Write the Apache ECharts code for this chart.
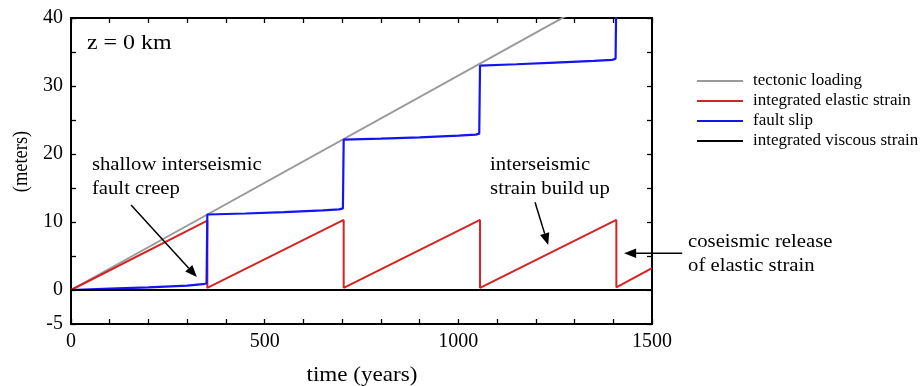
<!DOCTYPE html>
<html><head><meta charset="utf-8">
<script src="https://cdn.jsdelivr.net/npm/echarts@6/dist/echarts.min.js"></script>
<style>html,body{margin:0;padding:0;background:#fff}#c{width:920px;height:386px}</style>
</head><body><div id="c"></div>
<script>
// ---- data (years, meters) ----
const tectonicLoading = [[0, 0], [1500, 47.3]];
const elasticStrain = [[0, 0], [352, 10.2], [352, 0.3], [704, 10.3], [704, 0.3], [1056, 10.3], [1056, 0.3], [1408, 10.3], [1408, 0.4], [1500, 3.2]];
const faultSlip = [[0, 0], [100, 0.2], [200, 0.4], [300, 0.65], [340, 0.85], [350, 0.95], [352, 11.1],
  [450, 11.25], [550, 11.45], [650, 11.7], [692, 11.85], [702, 12.0], [704, 22.1],
  [800, 22.25], [900, 22.45], [1000, 22.7], [1045, 22.85], [1054, 23.0], [1056, 33.0],
  [1150, 33.2], [1250, 33.45], [1350, 33.7], [1397, 33.85], [1406, 34.0], [1408, 44.4]];
const viscousStrain = [[0, 0], [1500, 0]];
const seriesNames = ['tectonic loading', 'integrated elastic strain', 'fault slip', 'integrated viscous strain'];
const xTickLabels = [0, 500, 1000, 1500];
const yTickLabels = [-5, 0, 10, 20, 30, 40];

const FONT = 'Liberation Serif';
const chart = echarts.init(document.getElementById('c'));

function axisCommon(show) {
  return {
    axisLine: { show: true, onZero: false, lineStyle: { color: '#000', width: 2 } },
    axisTick: { show: true, inside: true, length: 5, lineStyle: { color: '#000', width: 1.3 } },
    splitLine: { show: false },
    axisLabel: { show: show, color: '#000', fontFamily: FONT, fontSize: 20 }
  };
}

const xb = axisCommon(true);
xb.axisLabel.margin = 8;
xb.axisLabel.interval = 0;
xb.axisLabel.formatter = v => xTickLabels.indexOf(v) >= 0 ? String(v) : '';
const yl = axisCommon(true);
yl.axisLabel.margin = 8;
yl.axisLabel.interval = 0;
yl.axisLabel.formatter = v => yTickLabels.indexOf(v) >= 0 ? String(v) : '';

const option = {
  animation: false,
  backgroundColor: '#fff',
  grid: { left: 71, right: 268, top: 18, bottom: 62, containLabel: false },
  xAxis: [
    Object.assign({ type: 'value', position: 'bottom', min: 0, max: 1500, interval: 100 }, xb),
    Object.assign({ type: 'value', position: 'top', min: 0, max: 1500, interval: 100 }, axisCommon(false))
  ],
  yAxis: [
    Object.assign({ type: 'value', position: 'left', min: -5, max: 40, interval: 5 }, yl),
    Object.assign({ type: 'value', position: 'right', min: -5, max: 40, interval: 5 }, axisCommon(false))
  ],
  legend: {
    orient: 'vertical', left: 697, top: 71, padding: 0, itemWidth: 46, itemHeight: 2, itemGap: 0,
    icon: 'rect',
    textStyle: { color: '#000', fontFamily: FONT, fontSize: 17, lineHeight: 20, padding: [0, 0, 0, 5] },
    data: seriesNames
  },
  series: [
    { name: seriesNames[0], type: 'line', data: tectonicLoading, symbol: 'none', lineStyle: { color: '#9a9a9a', width: 2 }, itemStyle: { color: '#9a9a9a' }, z: 2 },
    { name: seriesNames[1], type: 'line', data: elasticStrain, symbol: 'none', lineStyle: { color: '#d42424', width: 2 }, itemStyle: { color: '#d42424' }, z: 3 },
    { name: seriesNames[2], type: 'line', data: faultSlip, symbol: 'none', lineStyle: { color: '#1414f0', width: 2.2 }, itemStyle: { color: '#1414f0' }, z: 4 },
    { name: seriesNames[3], type: 'line', data: viscousStrain, symbol: 'none', lineStyle: { color: '#000', width: 2 }, itemStyle: { color: '#000' }, z: 5 }
  ]
};
chart.setOption(option);

// ---- annotations (anchored in data coordinates) ----
const annotTexts = [
  { at: [54, 18.4], lines: ['shallow interseismic', 'fault creep'], size: 18.5, sx: 1.12 },
  { at: [1082, 18.4], lines: ['interseismic', 'strain build up'], size: 18.5, sx: 1.12 },
  { at: [1593, 7.06], lines: ['coseismic release', 'of elastic strain'], size: 18.5, sx: 1.12 },
  { at: [41, 36.3], lines: ['z = 0 km'], size: 21, sx: 1.14 }
];
const annotArrows = [
  { from: [155, 12.5], to: [325, 1.9] },
  { from: [1198, 12.9], to: [1232, 6.6] },
  { from: [1578, 5.4], to: [1428, 5.4] }
];
const px = p => chart.convertToPixel({ xAxisIndex: 0, yAxisIndex: 0 }, p);
const graphics = [];
annotTexts.forEach(a => {
  const p = px(a.at);
  a.lines.forEach((ln, i) => {
    graphics.push({ type: 'text', x: p[0], y: p[1] + i * 24.5, scaleX: a.sx, silent: true, z: 100,
      style: { text: ln, fill: '#000', font: a.size + 'px "' + FONT + '"', textVerticalAlign: 'middle', verticalAlign: 'middle' } });
  });
});
// axis titles
graphics.push({ type: 'text', x: 362, y: 375, scaleX: 1.1, silent: true, z: 100,
  style: { text: 'time (years)', fill: '#000', font: '21px "' + FONT + '"', align: 'center', verticalAlign: 'middle', textAlign: 'center', textVerticalAlign: 'middle' } });
graphics.push({ type: 'text', x: 22, y: 161.5, rotation: Math.PI / 2, scaleX: 0.9, silent: true, z: 100,
  style: { text: '(meters)', fill: '#000', font: '20.5px "' + FONT + '"', align: 'center', verticalAlign: 'middle', textAlign: 'center', textVerticalAlign: 'middle' } });
annotArrows.forEach(a => {
  const s = px(a.from), e = px(a.to);
  const dx = e[0] - s[0], dy = e[1] - s[1], L = Math.hypot(dx, dy);
  const ux = dx / L, uy = dy / L, hl = 12, hw = 4.8;
  const bx = e[0] - ux * hl, by = e[1] - uy * hl;
  graphics.push({ type: 'line', silent: true, z: 100, shape: { x1: s[0], y1: s[1], x2: bx, y2: by }, style: { stroke: '#000', lineWidth: 1.5 } });
  graphics.push({ type: 'polygon', silent: true, z: 100, shape: { points: [[e[0], e[1]], [bx - uy * hw, by + ux * hw], [bx + uy * hw, by - ux * hw]] }, style: { fill: '#000' } });
});
chart.setOption({ graphic: graphics });
</script>
</body></html>
